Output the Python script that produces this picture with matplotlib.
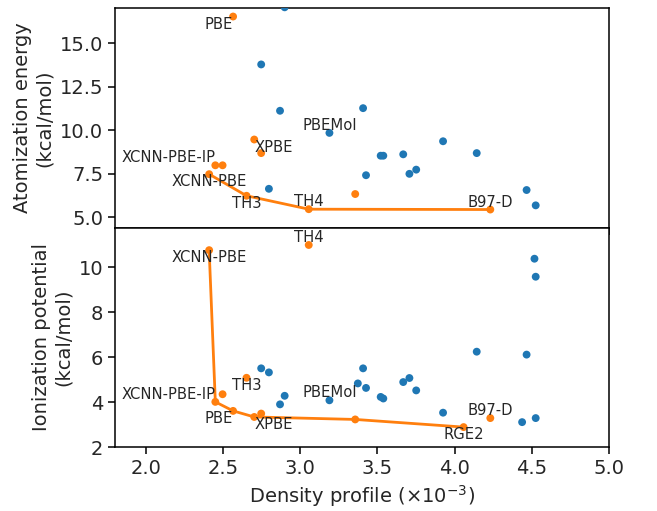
import matplotlib
matplotlib.use("Agg")
import matplotlib.pyplot as plt
import numpy as np

# Orange methods (highlighted)
orange_names = ["XCNN-PBE", "XCNN-PBE-IP", "", "PBE", "TH3", "XPBE", "", "TH4", "", "RGE2", "B97-D"]
orange_x = [2.410, 2.450, 2.497, 2.565, 2.652, 2.702, 2.747, 3.055, 3.356, 4.058, 4.231]
orange_ae = [7.47, 7.98, 7.98, 16.52, 6.23, 9.46, 8.68, 5.46, 6.33, 19.0, 5.44]
orange_ip = [10.75, 4.01, 4.35, 3.61, 5.08, 3.34, 3.49, 10.98, 3.23, 2.89, 3.29]

# Blue methods (others)
blue_names = ["", "", "", "", "PBEMol", "", "", "", "", "", "", "", "", "", "", "", "", "", "", ""]
blue_x = [2.747, 2.797, 2.869, 2.899, 3.189, 3.373, 3.407, 3.426, 3.521, 3.538,
          3.667, 3.707, 3.751, 3.925, 4.143, 4.437, 4.466, 4.517, 4.525, 4.525]
blue_ae = [13.77, 6.63, 11.11, 17.05, 9.84, 18.4, 11.26, 7.41, 8.53, 8.53,
           8.61, 7.49, 7.73, 9.36, 8.68, 21.0, 6.56, 19.5, 5.68, 20.5]
blue_ip = [5.50, 5.32, 3.90, 4.28, 4.08, 4.83, 5.50, 4.63, 4.23, 4.16,
           4.89, 5.07, 4.52, 3.53, 6.24, 3.11, 6.11, 10.37, 3.29, 9.57]

label_pos = {
    "XCNN-PBE": ("center", "top"),
    "XCNN-PBE-IP": ("right", "bottom"),
    "PBE": ("right", "top"),
    "TH3": ("center", "top"),
    "XPBE": ("left", "top"),
    "TH4": ("center", "bottom"),
    "RGE2": ("center", "top"),
    "B97-D": ("center", "bottom"),
    "PBEMol": ("center", "bottom"),
}


def pareto(xs, ys):
    order = np.argsort(xs)
    px, py = [], []
    best = np.inf
    for i in order:
        if ys[i] < best:
            best = ys[i]
            px.append(xs[i])
            py.append(ys[i])
    return px, py


fig, (ax1, ax2) = plt.subplots(2, 1, sharex=True, figsize=(6.57, 5.11), dpi=100)
fig.subplots_adjust(left=0.175, right=0.927, top=0.984, bottom=0.125, hspace=0)

ANN = 10.6
for ax, oy, by, ylim in [(ax1, orange_ae, blue_ae, (4.4, 17.0)),
                         (ax2, orange_ip, blue_ip, (2.0, 11.75))]:
    ax.scatter(blue_x, by, s=32, color="#1f77b4", edgecolor="none", zorder=3)
    fx, fy = pareto(np.array(orange_x), np.array(oy))
    ax.plot(fx, fy, color="#ff7f0e", lw=2, zorder=2)
    ax.scatter(orange_x, oy, s=32, color="#ff7f0e", edgecolor="none", zorder=3)
    for n, x, y in zip(orange_names, orange_x, oy):
        if n and ylim[0] <= y <= ylim[1]:
            ha, va = label_pos[n]
            ax.text(x, y, n, ha=ha, va=va, fontsize=ANN, color="#262626", zorder=4)
    for n, x, y in zip(blue_names, blue_x, by):
        if n and ylim[0] <= y <= ylim[1]:
            ha, va = label_pos[n]
            ax.text(x, y, n, ha=ha, va=va, fontsize=ANN, color="#262626", zorder=4)
    ax.set_ylim(*ylim)

ax1.set_xlim(1.8, 5.0)
ax1.set_yticks([5.0, 7.5, 10.0, 12.5, 15.0])
ax2.set_yticks([2, 4, 6, 8, 10])
ax2.set_xticks([2.0, 2.5, 3.0, 3.5, 4.0, 4.5, 5.0])
ax1.set_ylabel("Atomization energy\n(kcal/mol)", fontsize=14, color="#262626")
ax2.set_ylabel("Ionization potential\n(kcal/mol)", fontsize=14, color="#262626")
ax2.set_xlabel(r"Density profile ($\times10^{-3}$)", fontsize=14, color="#262626")
for ax in (ax1, ax2):
    ax.tick_params(labelsize=14, labelcolor="#262626", length=5, width=1.1)
    for sp in ax.spines.values():
        sp.set_linewidth(1.1)

fig.savefig("out.png", dpi=100)
